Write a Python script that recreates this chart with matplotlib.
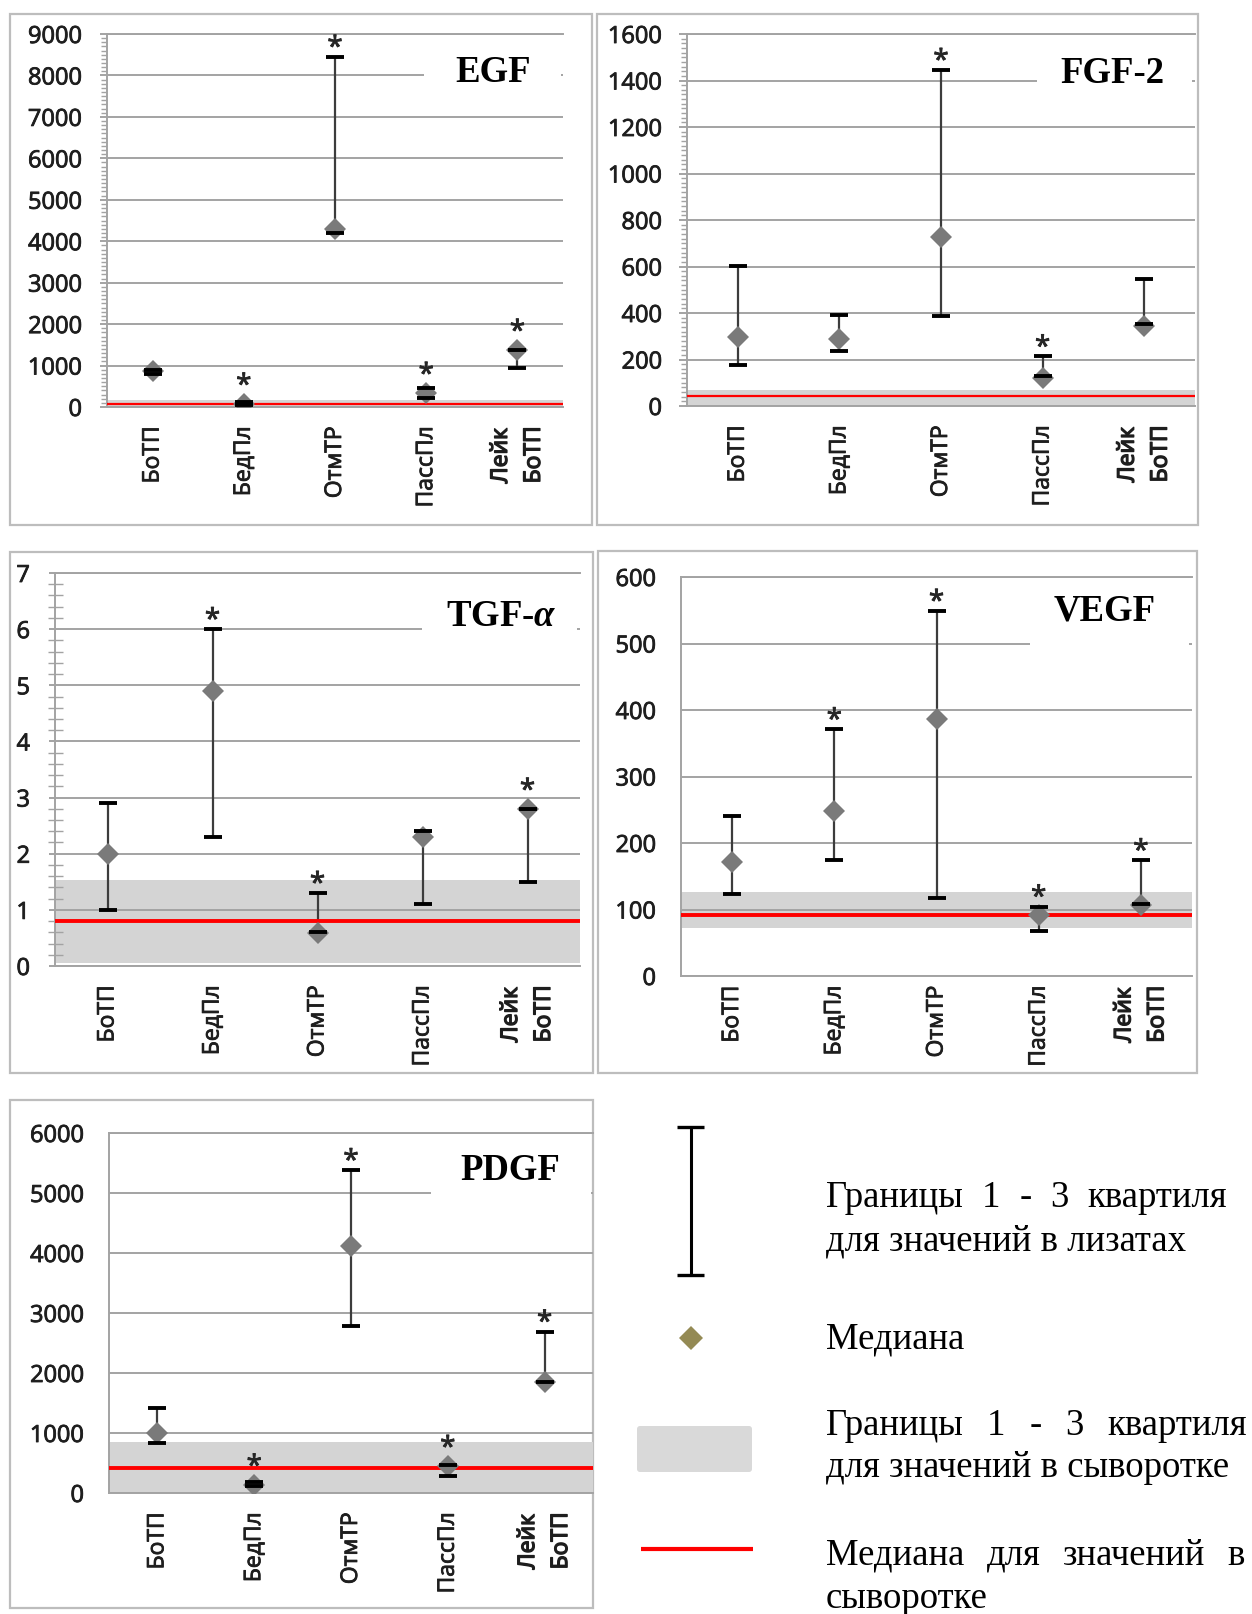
import numpy as np
import matplotlib.pyplot as plt
import matplotlib.patheffects as pe
from matplotlib.patches import Rectangle, FancyBboxPatch
from matplotlib.ticker import MultipleLocator

plt.rcParams['font.family'] = ['Open Sans', 'DejaVu Sans']
plt.rcParams['mathtext.fontset'] = 'custom'
plt.rcParams['mathtext.rm'] = 'Liberation Serif:bold'
plt.rcParams['mathtext.it'] = 'Liberation Serif:bold:italic'

groups = ['БоТП', 'БедПл', 'ОтмТР', 'ПассПл', 'Лейк\nБоТП']

# lysates: median, Q1, Q3; serum: Q1, Q3, median; * = significant
egf_med = [860, 80, 4300, 340, 1380]
egf_q1 = [800, 40, 4200, 220, 940]
egf_q3 = [900, 120, 8450, 470, 1370]
egf_serum = [20, 180, 65]
egf_star = [0, 1, 1, 1, 1]

fgf_med = [295, 290, 725, 120, 345]
fgf_q1 = [178, 238, 388, 128, 353]
fgf_q3 = [602, 391, 1445, 213, 548]
fgf_serum = [5, 70, 41]
fgf_star = [0, 0, 1, 1, 0]

tgf_med = [2.0, 4.9, 0.58, 2.3, 2.8]
tgf_q1 = [1.0, 2.3, 0.6, 1.1, 1.5]
tgf_q3 = [2.9, 6.0, 1.3, 2.4, 2.8]
tgf_serum = [0.06, 1.53, 0.8]
tgf_star = [0, 1, 1, 0, 1]

vegf_med = [171, 248, 386, 91, 107]
vegf_q1 = [124, 175, 117, 67, 108]
vegf_q3 = [240, 371, 549, 104, 174]
vegf_serum = [72, 126, 91]
vegf_star = [0, 1, 1, 1, 1]

pdgf_med = [1000, 140, 4120, 450, 1850]
pdgf_q1 = [830, 120, 2780, 290, 1850]
pdgf_q3 = [1420, 180, 5380, 470, 2690]
pdgf_serum = [10, 850, 410]
pdgf_star = [0, 1, 1, 1, 1]

legend_lines = [
    ('Границы 1 - 3 квартиля', 1207, 1227),
    ('для значений в лизатах', 1250, None),
    ('Медиана', 1348, None),
    ('Границы 1 - 3 квартиля', 1435, 1247),
    ('для значений в сыворотке', 1477, None),
    ('Медиана для значений в', 1565, 1245),
    ('сыворотке', 1608, None),
]

W, H = 1252, 1614
GRID = '#a3a3a3'
INK = '#1e1e1e'
thick = [pe.withStroke(linewidth=0.6, foreground=INK)]
thicker = [pe.withStroke(linewidth=1.0, foreground=INK)]

fig = plt.figure(figsize=(W / 100, H / 100), dpi=100)

bg = fig.add_axes([0, 0, 1, 1])
bg.set_xlim(0, W)
bg.set_ylim(H, 0)
bg.axis('off')
for l, t, r, b in [(10, 14, 592, 525), (597, 14, 1198, 525), (10, 552, 593, 1073),
                   (598, 551, 1197, 1073), (10, 1100, 593, 1608)]:
    bg.add_patch(Rectangle((l, t), r - l, b - t, fill=False, ec='#bdbdbd', lw=1.6))


def panel(rect, med, q1, q3, serum, star, ymax, step, minor, title, tpos, tbox,
          tick_px=7, minor_dir='out', minor_px=6, red_lw=2.8, xpad=14):
    l, t, r, b = rect
    ax = fig.add_axes([l / W, 1 - b / H, (r - l) / W, (b - t) / H])
    ax.patch.set_alpha(0)
    x = np.arange(len(groups))
    med, q1, q3 = np.asarray(med), np.asarray(q1), np.asarray(q3)

    ax.axhspan(serum[0], serum[1], color='#d4d4d4', lw=0, zorder=0.2)
    ax.axhline(serum[2], color='#ff0000', lw=red_lw, zorder=3.5)
    ax.vlines(x, q1, q3, color='#3c3c3c', lw=1.6, zorder=3)
    ax.plot(x, med, ls='none', marker='D', ms=11, mew=0, color='#7a7a7a', zorder=4)
    for q in (q1, q3):
        ax.plot(x, q, ls='none', marker='_', ms=12.5, mew=2.8, color='black', zorder=5)

    ax.set_xlim(-0.5, 4.5)
    ax.set_ylim(0, ymax)
    ppu = ax.bbox.height / ymax
    for i in np.flatnonzero(star):
        top = max(q3[i] * ppu + 2, med[i] * ppu + 11)
        ax.annotate('*', (x[i], 0), xytext=(0, (top - 1) * 0.72), textcoords='offset points',
                    ha='center', va='baseline', fontsize=20, color='#262626', zorder=6,
                    path_effects=thick)

    ax.set_yticks(np.arange(0, ymax + step / 2, step))
    ax.yaxis.set_major_formatter(lambda v, p: f'{v:g}')
    ax.grid(axis='y', color=GRID, lw=1.4)
    ax.set_axisbelow(True)
    for s in ('left', 'bottom', 'top'):
        ax.spines[s].set_color(GRID)
        ax.spines[s].set_linewidth(1.4)
    ax.spines['right'].set_visible(False)
    ax.tick_params(axis='y', which='major', length=tick_px * 0.72, width=1.4, color=GRID,
                   labelsize=17, labelcolor=INK, pad=(25 - tick_px) * 0.72)
    if minor:
        ax.yaxis.set_minor_locator(MultipleLocator(minor))
        ax.tick_params(axis='y', which='minor', direction=minor_dir, length=minor_px * 0.72,
                       width=1, color=GRID)
    for lab in ax.get_yticklabels():
        lab.set_path_effects(thick)

    ax.set_xticks(x, groups, rotation=90)
    ax.tick_params(axis='x', length=0, pad=xpad, labelsize=16.5, labelcolor=INK)
    labs = ax.get_xticklabels()
    for lab in labs[:-1]:
        lab.set_path_effects(thick)
    labs[-1].set_path_effects(thicker)
    labs[-1].set_multialignment('left')
    labs[-1].set_linespacing(1.5)

    ax.add_patch(Rectangle((tbox[0], tbox[1]), 0.995 - tbox[0], 0.996 - tbox[1],
                           transform=ax.transAxes, fc='white', ec='none', zorder=2.4))
    ax.text(tpos[0], tpos[1], title, transform=ax.transAxes, ha='center', va='center',
            fontsize=26.5, fontweight='bold', family='Liberation Serif', zorder=2.45)
    return ax


panel((107, 34, 563, 407), egf_med, egf_q1, egf_q3, egf_serum, egf_star, 9000, 1000, 100,
      'EGF', (0.846, 0.898), (0.695, 0.80), tick_px=7, red_lw=1.6)
panel((687, 34, 1195, 406), fgf_med, fgf_q1, fgf_q3, fgf_serum, fgf_star, 1600, 200, 20,
      'FGF-2', (0.838, 0.895), (0.689, 0.80), tick_px=8, red_lw=1.6)
panel((55, 573, 580, 966), tgf_med, tgf_q1, tgf_q3, tgf_serum, tgf_star, 7, 1, 0.2,
      r'TGF-$\alpha$', (0.851, 0.89), (0.699, 0.79), tick_px=6, minor_dir='inout', minor_px=15)
panel((681, 577, 1192, 976), vegf_med, vegf_q1, vegf_q3, vegf_serum, vegf_star, 600, 100, None,
      'VEGF', (0.83, 0.915), (0.683, 0.79), tick_px=0, xpad=7)
panel((109, 1133, 593, 1493), pdgf_med, pdgf_q1, pdgf_q3, pdgf_serum, pdgf_star, 6000, 1000, None,
      'PDGF', (0.829, 0.896), (0.665, 0.79), tick_px=0)

# legend
bg.plot([690.5, 690.5], [1127, 1275], color='black', lw=2.2, solid_capstyle='butt')
for yy in (1127, 1275):
    bg.plot([677, 704], [yy, yy], color='black', lw=2.4, solid_capstyle='butt')
bg.plot([690.5], [1338], marker='D', ms=12.5, mew=0, color='#948a54')
bg.add_patch(FancyBboxPatch((637, 1426), 115, 46, boxstyle='round,pad=0,rounding_size=3',
                            fc='#d9d9d9', ec='none'))
bg.plot([641, 753], [1549, 1549], color='#ff0000', lw=3, solid_capstyle='butt')

lfont = dict(fontsize=26.5, family='Liberation Serif', va='baseline', color='black')
renderer = fig.canvas.get_renderer()
for line, y, x1 in legend_lines:
    if x1 is None:
        bg.text(826, y, line, **lfont)
        continue
    words = line.split()
    texts = [bg.text(826, y, w, **lfont) for w in words]
    widths = [tt.get_window_extent(renderer).width for tt in texts]
    gap = (x1 - 826 - sum(widths)) / (len(words) - 1)
    pos = 826
    for tt, w in zip(texts, widths):
        tt.set_x(pos)
        pos += w + gap

fig.savefig('out.png', dpi=100)
